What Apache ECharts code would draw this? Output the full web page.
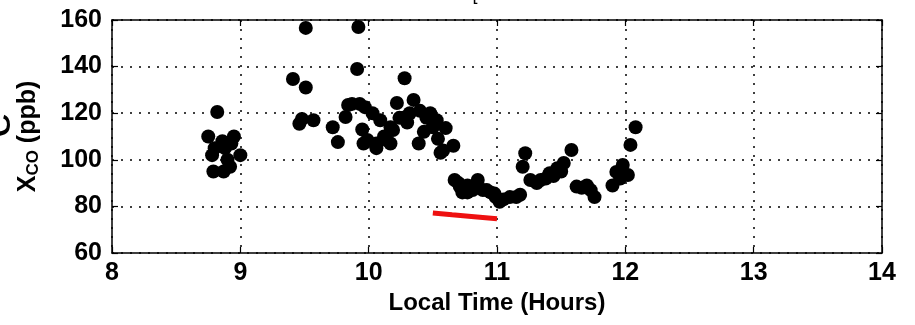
<!DOCTYPE html>
<html>
<head>
<meta charset="utf-8">
<script src="https://cdn.jsdelivr.net/npm/echarts@6/dist/echarts.min.js"></script>
<style>html,body{margin:0;padding:0;background:#fff}#c{width:915px;height:325px}</style>
</head>
<body>
<div id="c"></div>
<script>
// Local time (hours) and CO mixing ratio (ppb)
const coPoints = [
  [8.75,110],[8.82,120.5],[8.80,105],[8.78,102],[8.79,95],[8.87,95],[8.90,100],[8.88,105],[8.93,107],[8.95,110],[9.00,102],[8.92,97],[8.86,108],
  [9.41,134.7],[9.51,131],[9.51,156.6],[9.46,115.5],[9.48,117.5],[9.57,117],[9.72,114],[9.76,107.6],[9.82,118.4],[9.84,123.5],[9.87,124],[9.92,157],[9.91,139],[9.93,124],[9.96,107],[9.95,113],
  [9.97,122.6],[10.03,120],[10.09,117],[10.17,114],[10.22,124.4],[10.28,135],[10.35,125.7],[10.24,118],[10.32,120],[10.40,121],[10.45,118],[10.53,117],[10.60,113.6],[10.50,114],[10.43,112],[10.39,107],[10.54,109],[10.58,104],[10.66,106],[9.99,108.5],[10.06,107],[10.06,105],[10.14,108.5],[10.19,112.8],[10.17,107],[10.12,110],[10.27,118],[10.30,116],[10.48,120],[10.56,103],
  [10.67,91.3],[10.71,88.5],[10.73,86],[10.77,89],[10.77,86],[10.81,87],[10.85,91.3],[10.89,87],[10.92,87],[10.95,86],[10.99,84],[11.02,82],[11.05,83],[11.10,84],[11.15,84],[11.18,85],[10.98,85.5],[10.70,90],
  [11.20,97],[11.22,102.8],[11.26,91.3],[11.31,90],[11.34,91.3],[11.38,92],[11.41,94.2],[11.44,93],[11.47,96.4],[11.52,98.6],[11.50,95],[11.58,104.2],[11.62,88.5],[11.66,88],[11.70,89],[11.73,87],[11.76,84],
  [11.90,89],[11.93,94.8],[11.98,97.8],[12.02,93.5],[12.04,106.4],[12.08,114],[11.96,92]
];
const redLine = [[10.50,77.2],[10.65,76.4],[10.80,75.7],[11.00,74.7]];
const xTicks = {min: 8, max: 14, interval: 1};
const yTicks = {min: 60, max: 160, interval: 20};

const FONT = 'Liberation Sans, Arial, sans-serif';
const chart = echarts.init(document.getElementById('c'));
const dotted = {show: true, lineStyle: {color: '#000', width: 1.5, type: [2, 7]}};
const tick = {show: true, inside: true, length: 6, lineStyle: {color: '#000', width: 1.2}};
const line = {show: true, lineStyle: {color: '#000', width: 1.5}};
chart.setOption({
  animation: false,
  grid: {left: 112, right: 33, top: 20, bottom: 72},
  xAxis: [{
    type: 'value', min: xTicks.min, max: xTicks.max, interval: xTicks.interval,
    axisLine: line, axisTick: tick, splitLine: dotted,
    axisLabel: {color: '#000', fontFamily: FONT, fontSize: 25, fontWeight: 'bold', margin: 8},
    name: 'Local Time (Hours)', nameLocation: 'middle', nameGap: 38,
    nameTextStyle: {color: '#000', fontFamily: FONT, fontSize: 24, fontWeight: 'bold'}
  }, {
    type: 'value', position: 'top', min: xTicks.min, max: xTicks.max, interval: xTicks.interval,
    axisLine: line, axisTick: tick, splitLine: {show: false}, axisLabel: {show: false}
  }],
  yAxis: [{
    type: 'value', min: yTicks.min, max: yTicks.max, interval: yTicks.interval,
    axisLine: line, axisTick: tick, splitLine: dotted,
    axisLabel: {color: '#000', fontFamily: FONT, fontSize: 25, fontWeight: 'bold', margin: 10},
    name: '{a|X}{b|CO}{a| (ppb)}', nameLocation: 'middle', nameGap: 70, nameRotate: 90,
    nameTextStyle: {
      rich: {
        a: {color: '#000', fontFamily: FONT, fontSize: 25, fontWeight: 'bold', lineHeight: 28},
        b: {color: '#000', fontFamily: FONT, fontSize: 17, fontWeight: 'bold', lineHeight: 18, verticalAlign: 'bottom'}
      }
    }
  }, {
    type: 'value', position: 'right', min: yTicks.min, max: yTicks.max, interval: yTicks.interval,
    axisLine: line, axisTick: tick, splitLine: {show: false}, axisLabel: {show: false}
  }],
  graphic: [
    {type: 'text', x: 20, y: 125, rotation: Math.PI / 2,
     style: {text: 'e', fontFamily: FONT, fontSize: 46, fill: '#000', textAlign: 'center', textVerticalAlign: 'bottom'}},
    {type: 'text', x: 475, y: 4,
     style: {text: '[', fontFamily: FONT, fontSize: 18, fill: '#000', textAlign: 'center', textVerticalAlign: 'bottom'}}
  ],
  series: [{
    type: 'scatter', xAxisIndex: 0, yAxisIndex: 0, data: coPoints,
    symbol: 'circle', symbolSize: 14, itemStyle: {color: '#000', opacity: 1}
  }, {
    type: 'line', xAxisIndex: 0, yAxisIndex: 0, data: redLine, symbol: 'none',
    lineStyle: {color: '#ee1111', width: 5}
  }]
});
</script>
</body>
</html>
